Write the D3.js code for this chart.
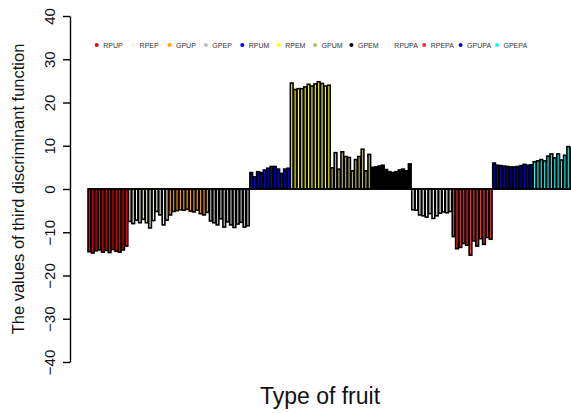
<!DOCTYPE html>
<html>
<head>
<meta charset="utf-8">
<script src="https://cdn.jsdelivr.net/npm/d3@7"></script>
<style>
  html, body { margin: 0; padding: 0; background: #fff; }
  svg { display: block; font-family: "Liberation Sans", Arial, sans-serif; }
</style>
</head>
<body>
<svg id="chart" width="571" height="413"></svg>
<script>
// Fruit groups, in plotting order
const groups = ["RPUP", "RPEP", "GPUP", "GPEP", "RPUM", "RPEM", "GPUM", "GPEM", "RPUPA", "RPEPA", "GPUPA", "GPEPA"];
const groupColors = ["#ff0000", "#f5f5dc", "#ffa500", "#bebebe", "#0000ff", "#ffff00", "#bdb76b", "#000000", "#ffffff", "#ff3030", "#0000cd", "#00ffff"];

// Third discriminant function scores, one array per group
const RPUP  = [-14.5, -14.8, -14.3, -14.1, -14.6, -14.2, -14.7, -14.0, -14.4, -14.6, -14.1, -13.2];
const RPEP  = [-7.5, -8.0, -7.2, -7.8, -7.0, -7.8, -9.0, -7.3, -5.2, -6.0, -8.3, -7.2];
const GPUP  = [-6.0, -5.2, -5.0, -4.8, -4.9, -4.7, -5.1, -5.3, -4.9, -5.7, -6.0, -5.4];
const GPEP  = [-7.4, -7.8, -8.3, -6.9, -8.8, -7.6, -8.3, -8.9, -8.1, -7.7, -8.8, -8.5];
const RPUM  = [3.8, 2.8, 4.0, 3.8, 4.4, 4.8, 5.2, 5.2, 4.6, 3.6, 4.6, 4.8];
const RPEM  = [24.5, 23.0, 23.2, 23.2, 23.6, 24.2, 23.8, 24.3, 24.8, 24.4, 23.8, 24.0];
const GPUM  = [4.9, 8.4, 4.6, 8.6, 7.5, 7.3, 4.2, 6.8, 7.5, 9.2, 4.2, 8.0];
const GPEM  = [5.0, 5.1, 5.3, 5.5, 4.5, 4.0, 3.8, 4.0, 4.4, 4.6, 4.2, 5.8];
const RPUPA = [-4.8, -4.9, -6.0, -6.2, -6.5, -5.7, -6.8, -6.2, -5.6, -5.3, -5.5, -5.2];
const RPEPA = [-11.0, -13.8, -13.5, -12.6, -13.0, -15.3, -12.0, -13.2, -11.5, -12.8, -11.2, -11.6];
const GPUPA = [6.0, 5.5, 5.4, 5.3, 5.2, 5.1, 5.1, 5.2, 5.4, 5.7, 5.5, 5.6];
const GPEPA = [6.3, 6.5, 6.8, 6.5, 7.6, 8.1, 7.2, 8.1, 6.7, 7.8, 9.8, 9.5];

const seriesValues = [RPUP, RPEP, GPUP, GPEP, RPUM, RPEM, GPUM, GPEM, RPUPA, RPEPA, GPUPA, GPEPA];
const yTicks = [-40, -30, -20, -10, 0, 10, 20, 30, 40];

// Flatten into one bar per sample
const bars = [];
seriesValues.forEach((vals, g) => {
  vals.forEach(v => bars.push({ id: bars.length, group: groups[g], color: groupColors[g], value: v }));
});

const svg = d3.select("#chart");

const x = d3.scaleBand()
  .domain(bars.map(d => d.id))
  .range([88, 573])
  .paddingInner(0.2)
  .paddingOuter(0);

const y = d3.scaleLinear().domain([-40, 40]).range([362, 16]);

// Bars: thin fills inside heavy black outlines
svg.append("g")
  .selectAll("rect")
  .data(bars)
  .join("rect")
  .attr("x", d => x(d.id))
  .attr("width", x.bandwidth())
  .attr("y", d => y(Math.max(0, d.value)))
  .attr("height", d => Math.abs(y(d.value) - y(0)))
  .attr("fill", d => d.color)
  .attr("stroke", "#000")
  .attr("stroke-width", 1.6);

// Zero reference line
svg.append("line")
  .attr("x1", 88).attr("x2", 571)
  .attr("y1", y(0)).attr("y2", y(0))
  .attr("stroke", "#000").attr("stroke-width", 1.4);

// Y axis
const yAxis = svg.append("g")
  .attr("transform", "translate(70,0)")
  .call(d3.axisLeft(y).tickValues(yTicks).tickSize(7).tickSizeOuter(0).tickFormat(d3.format("d")));
yAxis.select(".domain").attr("stroke", "#000").attr("stroke-width", 1.4);
yAxis.selectAll(".tick line").attr("stroke", "#000").attr("stroke-width", 1.4);
yAxis.selectAll(".tick text")
  .attr("x", 0).attr("dy", 0)
  .attr("transform", "translate(-21,0) rotate(-90)")
  .attr("text-anchor", "middle")
  .attr("dominant-baseline", "central")
  .attr("font-size", 15)
  .attr("font-family", "Liberation Sans, Arial, sans-serif")
  .attr("fill", "#111");

// Axis titles
svg.append("text")
  .attr("transform", `translate(18,${y(0)}) rotate(-90)`)
  .attr("text-anchor", "middle")
  .attr("dominant-baseline", "central")
  .attr("font-size", 16.5)
  .attr("fill", "#111")
  .text("The values of third discriminant function");

svg.append("text")
  .attr("x", 320).attr("y", 404)
  .attr("text-anchor", "middle")
  .attr("font-size", 23)
  .attr("fill", "#111")
  .text("Type of fruit");

// Legend row
const legendX = d3.scaleLinear().domain([0, groups.length - 1]).range([96.7, 497]);
const legend = svg.append("g")
  .selectAll("g")
  .data(groups)
  .join("g")
  .attr("transform", (d, i) => `translate(${legendX(i)},45)`);
legend.append("circle")
  .attr("r", 2)
  .attr("fill", (d, i) => groupColors[i]);
legend.append("text")
  .attr("x", 6.5)
  .attr("dominant-baseline", "central")
  .attr("font-size", 7)
  .attr("fill", "#333")
  .text(d => d);
</script>
</body>
</html>
